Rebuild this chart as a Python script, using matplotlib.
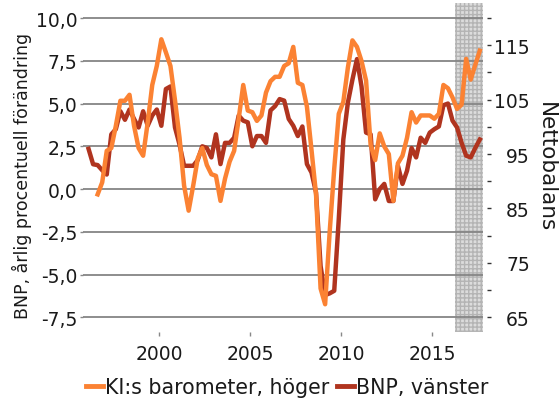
import numpy as np
import pandas as pd
from matplotlib import pyplot as plt
from matplotlib.lines import Line2D

plt.rcParams['font.family'] = 'DejaVu Sans'

# BNP, annual % change, quarterly 1996Q1 - 2017Q3 (left axis)
bnp = [2.35, 1.45, 1.4, 1.1, 0.85, 3.2, 3.5, 4.55, 4.05, 4.65, 4.1, 3.6,
       4.55, 3.7, 4.3, 4.65, 3.7, 5.85, 6.0, 3.6, 2.6, 1.36, 1.36, 1.36,
       1.7, 2.5, 2.4, 1.85, 3.2, 1.46, 2.7, 2.7, 3.0, 4.3, 4.0, 3.9,
       2.5, 3.1, 3.1, 2.7, 4.6, 4.85, 5.26, 5.17, 4.1, 3.7, 3.1, 3.66,
       1.46, 0.97, -0.2, -4.5, -6.2, -6.1, -5.95, -1.75, 2.9, 5.05, 6.4, 7.6,
       6.0, 3.3, 3.2, -0.6, 0.0, 0.3, -0.7, -0.7, 1.36, 0.3, 1.07, 2.4,
       1.85, 3.0, 2.7, 3.3, 3.5, 3.66, 4.9, 5.0, 4.0, 3.6, 2.7, 1.95, 1.85, 2.4, 2.9]

# KI:s barometer, nettobalans, quarterly 1996Q3 - 2017Q3 (right axis)
ki = [87.6, 89.8, 95.6, 96.1, 100.2, 104.8, 104.8, 105.9, 100.2, 96.1, 94.7, 100.8,
      107.7, 111.2, 116.1, 113.7, 111.2, 104.9, 98.0, 89.2, 84.6, 89.2, 94.2, 96.1,
      93.0, 91.3, 91.0, 86.4, 90.5, 93.6, 95.6, 101.5, 107.7, 103.0, 102.7, 101.1,
      102.1, 106.3, 108.4, 109.2, 109.2, 111.2, 111.7, 114.7, 108.1, 107.7, 103.7, 95.8,
      87.6, 70.3, 67.4, 80.7, 92.3, 102.4, 104.6, 110.9, 115.9, 114.7, 112.1, 108.5,
      96.7, 93.9, 98.8, 96.4, 95.0, 86.4, 93.3, 94.7, 98.0, 102.7, 100.8, 102.1,
      102.1, 102.1, 101.5, 102.4, 107.7, 107.1, 105.4, 103.3, 104.1, 112.5, 108.7, 111.4, 114.0]

bnp_q = pd.period_range('1996Q1', periods=len(bnp), freq='Q')
ki_q = pd.period_range('1996Q3', periods=len(ki), freq='Q')
x_bnp = bnp_q.year + (bnp_q.quarter - 0.5) / 4
x_ki = ki_q.year + (ki_q.quarter - 0.5) / 4

left_ticks = np.arange(-7.5, 10.01, 2.5)
left_labels = ['{:.1f}'.format(v).replace('.', ',') for v in left_ticks]
right_ticks = [65, 75, 85, 95, 105, 115]
right_minor = [70, 80, 90, 100, 110, 120]
year_ticks = [2000, 2005, 2010, 2015]
shade_start = 2016.25

orange = '#fb8233'
darkred = '#b0341f'
txt = '#1a1a1a'

fig = plt.figure(figsize=(5.59, 4.02), dpi=100)
ax = fig.add_axes([83/559, 69/402, 400/559, 329/402])
ax.set_xlim(1995.82, 2017.80)
ax.set_ylim(-8.36, 10.88)

ax.axvspan(shade_start, 2017.80, facecolor='#dcdcdc', edgecolor='#b4b4b4',
           hatch='++++', lw=0, zorder=0.5)
ax.set_yticks(left_ticks)
ax.set_yticklabels(left_labels)
ax.yaxis.grid(True, color='#858585', lw=1.3)
ax.set_xticks(year_ticks)
ax.tick_params(axis='y', length=2.5, width=1, color='#888888', pad=1.5,
               labelsize=13.5, labelcolor=txt)
ax.tick_params(axis='x', length=3, width=1, color='#888888', pad=6,
               labelsize=13.5, labelcolor=txt)

ax.plot(x_bnp, bnp, color=darkred, lw=3.2)

ax2 = ax.twinx()
ax2.set_ylim(62.3, 122.77)
ax2.plot(x_ki, ki, color=orange, lw=3.2)
ax2.set_yticks(right_ticks)
ax2.set_yticklabels([str(v) for v in right_ticks])
ax2.set_yticks(right_minor, minor=True)
ax2.tick_params(axis='y', which='both', length=3, width=1, color='#333333')
ax2.tick_params(axis='y', labelsize=13.5, pad=27.8, labelcolor=txt)
ax2.spines['right'].set_position(('outward', 3))
for tick in ax2.yaxis.get_major_ticks():
    tick.label2.set_horizontalalignment('right')

for a in (ax, ax2):
    for s in a.spines.values():
        s.set_visible(False)

fig.text(22/559, 1 - 176/402, 'BNP, årlig procentuell förändring', rotation=90,
         ha='center', va='center', fontsize=12.5, color=txt)
fig.text(546/559, 1 - 167/402, 'Nettobalans', rotation=270,
         ha='center', va='center', fontsize=15.5, color=txt)

handles = [Line2D([], [], color=orange, lw=3.5), Line2D([], [], color=darkred, lw=3.5)]
fig.legend(handles, ['KI:s barometer, höger', 'BNP, vänster'], loc='center',
           bbox_to_anchor=(0.514, 14/402), ncol=2, frameon=False, fontsize=14.8,
           handlelength=0.85, handletextpad=0.1, columnspacing=0.35,
           labelcolor=txt)

fig.savefig('out.png', dpi=100)
